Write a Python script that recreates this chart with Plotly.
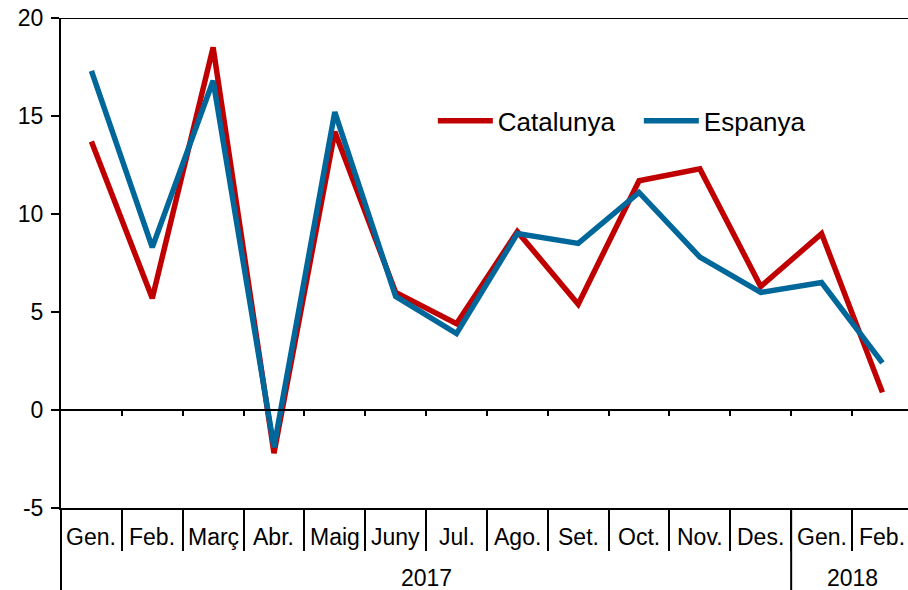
import plotly.graph_objects as go

months = ["Gen.", "Feb.", "Març", "Abr.", "Maig", "Juny", "Jul.", "Ago.", "Set.", "Oct.", "Nov.", "Des.", "Gen.", "Feb."]
years = ["2017", "2018"]
year_counts = [12, 2]
catalunya = [13.7, 5.7, 18.5, -2.2, 14.2, 6.0, 4.4, 9.1, 5.4, 11.7, 12.3, 6.3, 9.0, 0.9]
espanya = [17.3, 8.3, 16.8, -1.9, 15.2, 5.8, 3.9, 9.0, 8.5, 11.1, 7.8, 6.0, 6.5, 2.4]
y_ticks = [-5, 0, 5, 10, 15, 20]
y_ticktext = ["-5", "0", "5", "10", "15", "20"]

x = list(range(len(months)))
boundaries = [i - 0.5 for i in range(1, len(months))]
x_range = [-0.5, len(months) - 0.58]
FONT = "Liberation Sans, Arial, sans-serif"

fig = go.Figure()
fig.add_trace(go.Scatter(x=x, y=catalunya, mode="lines", name="Catalunya",
                         line=dict(color="#C00000", width=5.5)))
fig.add_trace(go.Scatter(x=x, y=espanya, mode="lines", name="Espanya",
                         line=dict(color="#00679B", width=5.5)))

W, H = 908, 590
ml, mr, mt, mb = 61, 0, 18, 82
ph = H - mt - mb
zero_pos = 5 / 25.0  # paper position of y=0

fig.update_layout(
    width=W, height=H,
    margin=dict(l=ml, r=mr, t=mt, b=mb, pad=0),
    paper_bgcolor="white", plot_bgcolor="white",
    font=dict(family=FONT, size=22, color="black"),
    showlegend=True,
    legend=dict(orientation="h", x=0.439, y=0.79, xanchor="left", yanchor="middle",
                font=dict(size=26, family=FONT), bgcolor="rgba(0,0,0,0)",
                itemwidth=55, entrywidth=136, entrywidthmode="pixels"),
    xaxis=dict(range=x_range, tickmode="array", tickvals=boundaries,
               showticklabels=False, ticks="outside", ticklen=5, tickwidth=2,
               tickcolor="black", showline=True,
               linecolor="black", linewidth=2, showgrid=False, zeroline=False,
               anchor="free", position=zero_pos),
    xaxis2=dict(range=x_range, tickmode="array", tickvals=boundaries,
                showticklabels=False, ticks="outside", ticklen=41, tickwidth=2,
                tickcolor="black", showline=True,
                linecolor="black", linewidth=2, showgrid=False, zeroline=False,
                overlaying="x", anchor="y", side="bottom"),
    yaxis=dict(range=[-5, 20], tickmode="array", tickvals=y_ticks, ticktext=y_ticktext,
               ticks="outside", ticklen=8,
               tickwidth=2, tickcolor="black", showline=True, linecolor="black",
               linewidth=2, showgrid=False, zeroline=False,
               tickfont=dict(size=23, family=FONT), ticklabelstandoff=3),
)

fig.add_trace(go.Scatter(x=x, y=[None] * len(x), xaxis="x2", showlegend=False,
                         hoverinfo="skip"))

shapes = []
shapes.append(dict(type="line", xref="paper", yref="y", x0=0, x1=1, y0=20, y1=20,
                   line=dict(color="black", width=2)))
shapes.append(dict(type="line", xref="paper", yref="paper", x0=0, x1=0, y0=0,
                   y1=-mb / ph, line=dict(color="black", width=2)))
start = 0
for cnt in year_counts[:-1]:
    start += cnt
    shapes.append(dict(type="line", xref="x", yref="paper", x0=start - 0.5,
                       x1=start - 0.5, y0=0, y1=-mb / ph,
                       line=dict(color="black", width=2)))
fig.update_layout(shapes=shapes)

ann = []
for i, m in enumerate(months):
    ann.append(dict(x=i, y=-29 / ph, xref="x", yref="paper", text=m, showarrow=False,
                    font=dict(size=23, family=FONT), xanchor="center", yanchor="middle"))
start = 0
for yr, cnt in zip(years, year_counts):
    ann.append(dict(x=start + (cnt - 1) / 2, y=-70 / ph, xref="x", yref="paper",
                    text=yr, showarrow=False, font=dict(size=23, family=FONT),
                    xanchor="center", yanchor="middle"))
    start += cnt
fig.update_layout(annotations=ann)

fig.write_html("out.html", config={"displayModeBar": False},
               post_script="document.body.style.margin='0';document.body.style.overflow='hidden';")
